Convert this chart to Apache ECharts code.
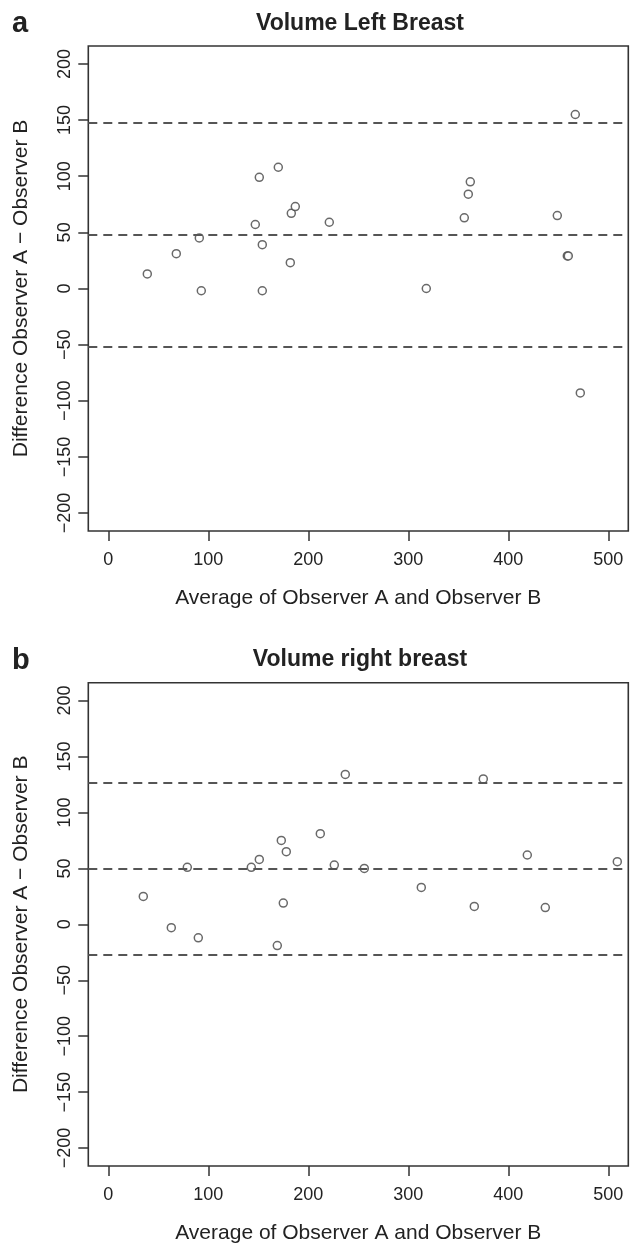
<!DOCTYPE html>
<html>
<head>
<meta charset="utf-8">
<script src="https://cdn.jsdelivr.net/npm/echarts@6/dist/echarts.min.js"></script>
<style>
  html, body { margin: 0; padding: 0; background: #fff; }
  #chart { width: 630px; height: 1245px; }
</style>
</head>
<body>
<div id="chart"></div>
<script>
// panel a: left breast (average, difference)
const leftAvg = [39, 68, 91, 93, 151, 170, 147, 154, 154, 183, 187, 182, 221, 467, 362, 360, 356, 449, 459, 460, 318, 472];
const leftDiff = [13, 31, 45, -2, 99, 108, 57, 39, -2, 67, 73, 23, 59, 155, 95, 84, 63, 65, 29, 29, 0, -93];
// mean, upper and lower limit of agreement
const leftLimits = [47.6, 147.3, -51.8];

// panel b: right breast
const rightAvg = [35, 63, 79, 90, 143, 151, 169, 173, 175, 178, 212, 226, 237, 256, 313, 366, 375, 419, 437, 509];
const rightDiff = [25, -3, 51, -12, 51, 58, -19, 75, 19, 65, 81, 53, 134, 50, 33, 16, 130, 62, 15, 56];
const rightLimits = [49.8, 126.5, -27.6];

const xTicks = [0, 100, 200, 300, 400, 500];
const yTicks = [-200, -150, -100, -50, 0, 50, 100, 150, 200];

const FONT = '"Liberation Sans", Arial, Helvetica, sans-serif';
const INK = '#222';

const chart = echarts.init(document.getElementById('chart'), null, { renderer: 'canvas' });

const grids = [
  { left: 88.3, top: 46, width: 540, height: 485 },
  { left: 88.3, top: 682.7, width: 540, height: 485.6 },
].map((g) => ({
  ...g,
  show: true,
  borderColor: '#333',
  borderWidth: 1.6,
  backgroundColor: 'transparent',
  containLabel: false,
}));

function xAxis(idx) {
  return {
    type: 'value',
    gridIndex: idx,
    min: -20,
    max: 520,
    name: 'Average of Observer A and Observer B',
    nameLocation: 'middle',
    nameGap: 57,
    nameTextStyle: { fontFamily: FONT, fontSize: 21, color: INK },
    axisLine: { show: false, onZero: false },
    axisTick: { show: true, length: 10, customValues: xTicks, lineStyle: { color: '#333', width: 1.5 } },
    axisLabel: { customValues: xTicks, margin: 20, fontFamily: FONT, fontSize: 18, color: INK },
    splitLine: { show: false },
  };
}

function yAxis(idx) {
  return {
    type: 'value',
    gridIndex: idx,
    min: -216,
    max: 216,
    name: 'Difference Observer A \u2212 Observer B',
    nameLocation: 'middle',
    nameGap: 57,
    nameTextStyle: { fontFamily: FONT, fontSize: 21, color: INK },
    axisLine: { show: false, onZero: false },
    axisTick: { show: true, length: 10, customValues: yTicks, lineStyle: { color: '#333', width: 1.5 } },
    axisLabel: {
      customValues: yTicks,
      rotate: 90,
      margin: 14,
      fontFamily: FONT,
      fontSize: 18,
      color: INK,
      formatter: (v) => String(v).replace('-', '\u2212'),
    },
    splitLine: { show: false },
  };
}

function scatter(idx, xs, ys, limits) {
  return {
    type: 'scatter',
    xAxisIndex: idx,
    yAxisIndex: idx,
    data: xs.map((x, i) => [x, ys[i]]),
    symbol: 'circle',
    symbolSize: 8,
    itemStyle: { color: '#fff', borderColor: '#444', borderWidth: 1.5 },
    emphasis: { disabled: true },
    markLine: {
      silent: true,
      symbol: ['none', 'none'],
      label: { show: false },
      lineStyle: { color: '#555', width: 2, type: [9, 6] },
      emphasis: { disabled: true },
      data: limits.map((v) => ({ yAxis: v })),
    },
  };
}

const titleStyle = { fontFamily: FONT, fontSize: 23, fontWeight: 'bold', color: INK };
const letterStyle = { fontFamily: FONT, fontSize: 29, fontWeight: 'bold', color: INK };

const option = {
  animation: false,
  backgroundColor: '#fff',
  title: [
    { text: 'Volume Left Breast', left: 360, top: 12, textAlign: 'center', padding: 0, textStyle: titleStyle },
    { text: 'Volume right breast', left: 360, top: 648, textAlign: 'center', padding: 0, textStyle: titleStyle },
    { text: 'a', left: 12, top: 9, padding: 0, textStyle: letterStyle },
    { text: 'b', left: 12, top: 646, padding: 0, textStyle: letterStyle },
  ],
  grid: grids,
  xAxis: [xAxis(0), xAxis(1)],
  yAxis: [yAxis(0), yAxis(1)],
  series: [
    scatter(0, leftAvg, leftDiff, leftLimits),
    scatter(1, rightAvg, rightDiff, rightLimits),
  ],
};

chart.setOption(option);
</script>
</body>
</html>
